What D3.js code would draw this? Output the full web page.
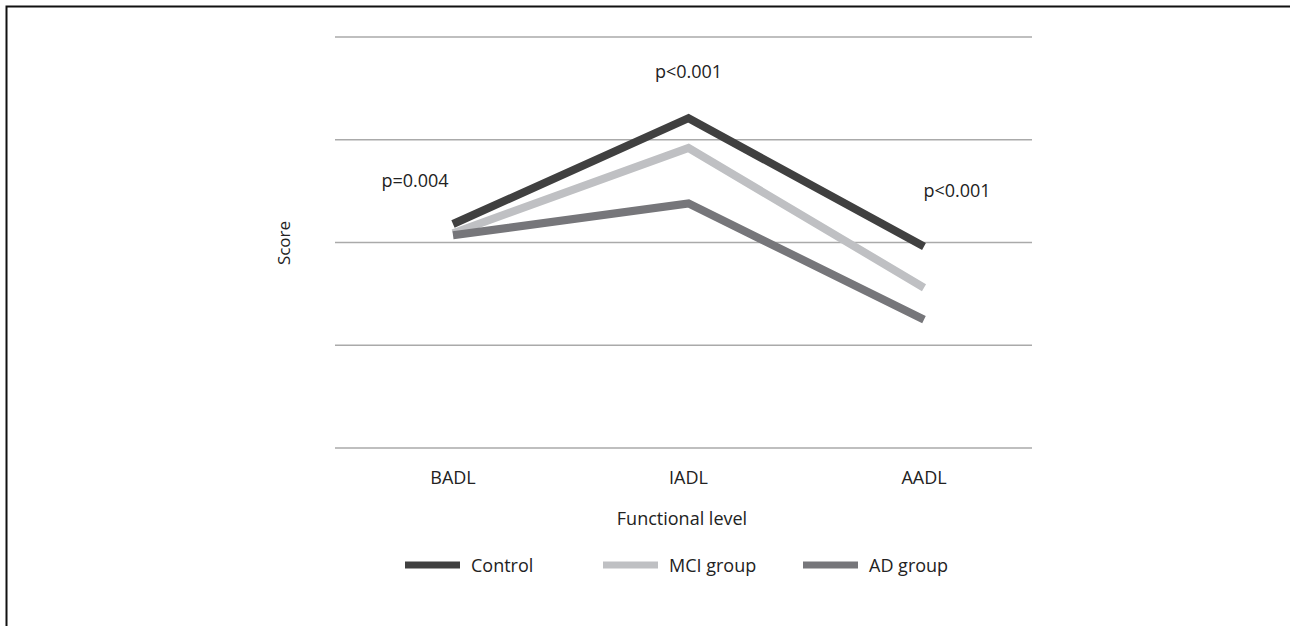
<!DOCTYPE html>
<html>
<head>
<meta charset="utf-8">
<script src="https://cdn.jsdelivr.net/npm/d3@7"></script>
<style>
  body { margin: 0; background: #fff; }
  text { font-family: "Open Sans", sans-serif; fill: #222; }
</style>
</head>
<body>
<div id="chart"></div>
<script>
var categories = ["BADL", "IADL", "AADL"];
var control = [2.18, 3.21, 1.96];
var mci = [2.09, 2.92, 1.56];
var ad = [2.07, 2.38, 1.25];
var pValues = ["p=0.004", "p<0.001", "p<0.001"];
var gridTicks = [0, 1, 2, 3, 4];

var series = [
  {name: "Control", values: control, color: "#404040"},
  {name: "MCI group", values: mci, color: "#bfc0c3"},
  {name: "AD group", values: ad, color: "#76767a"}
];

var W = 1290, H = 626;
var svg = d3.select("#chart").append("svg")
  .attr("width", W).attr("height", H);

// frame (top and left only)
svg.append("path")
  .attr("d", "M6.5," + H + "V6.5H" + W)
  .attr("fill", "none").attr("stroke", "#111").attr("stroke-width", 2);

var x = d3.scalePoint().domain(categories).range([453, 924]);
var y = d3.scaleLinear().domain([0, 4]).range([448, 37]);

// gridlines
svg.append("g")
  .selectAll("line")
  .data(gridTicks)
  .join("line")
    .attr("x1", 335).attr("x2", 1032)
    .attr("y1", d => y(d)).attr("y2", d => y(d))
    .attr("stroke", "#aaa").attr("stroke-width", 1.6);

// lines
var line = d3.line()
  .x((d, i) => x(categories[i]))
  .y(d => y(d));

svg.append("g")
  .selectAll("path")
  .data(series)
  .join("path")
    .attr("fill", "none")
    .attr("stroke", d => d.color)
    .attr("stroke-width", 8)
    .attr("stroke-linejoin", "miter")
    .attr("d", d => line(d.values));

// p-value annotations
var pOff = [[-38, -37], [0, -40], [33, -50]];
svg.append("g")
  .selectAll("text")
  .data(pValues)
  .join("text")
    .attr("x", (d, i) => x(categories[i]) + pOff[i][0])
    .attr("y", (d, i) => y(d3.max(series, s => s.values[i])) + pOff[i][1])
    .attr("text-anchor", "middle")
    .style("font-size", "18px")
    .text(d => d);

// x axis labels
svg.append("g")
  .selectAll("text")
  .data(categories)
  .join("text")
    .attr("x", d => x(d))
    .attr("y", 484)
    .attr("text-anchor", "middle")
    .style("font-size", "18px")
    .text(d => d);

svg.append("text")
  .attr("x", 682).attr("y", 525)
  .attr("text-anchor", "middle")
  .style("font-size", "18px")
  .text("Functional level");

svg.append("text")
  .attr("transform", "translate(290,243) rotate(-90)")
  .attr("text-anchor", "middle")
  .style("font-size", "17px")
  .text("Score");

// legend
var legX = [405, 603, 803];
var leg = svg.append("g")
  .selectAll("g")
  .data(series)
  .join("g")
    .attr("transform", (d, i) => "translate(" + legX[i] + ",565)");
leg.append("line")
  .attr("x1", 0).attr("x2", 55)
  .attr("stroke", d => d.color).attr("stroke-width", 7);
leg.append("text")
  .attr("x", 66).attr("y", 6.5)
  .style("font-size", "18px")
  .text(d => d.name);
</script>
</body>
</html>
